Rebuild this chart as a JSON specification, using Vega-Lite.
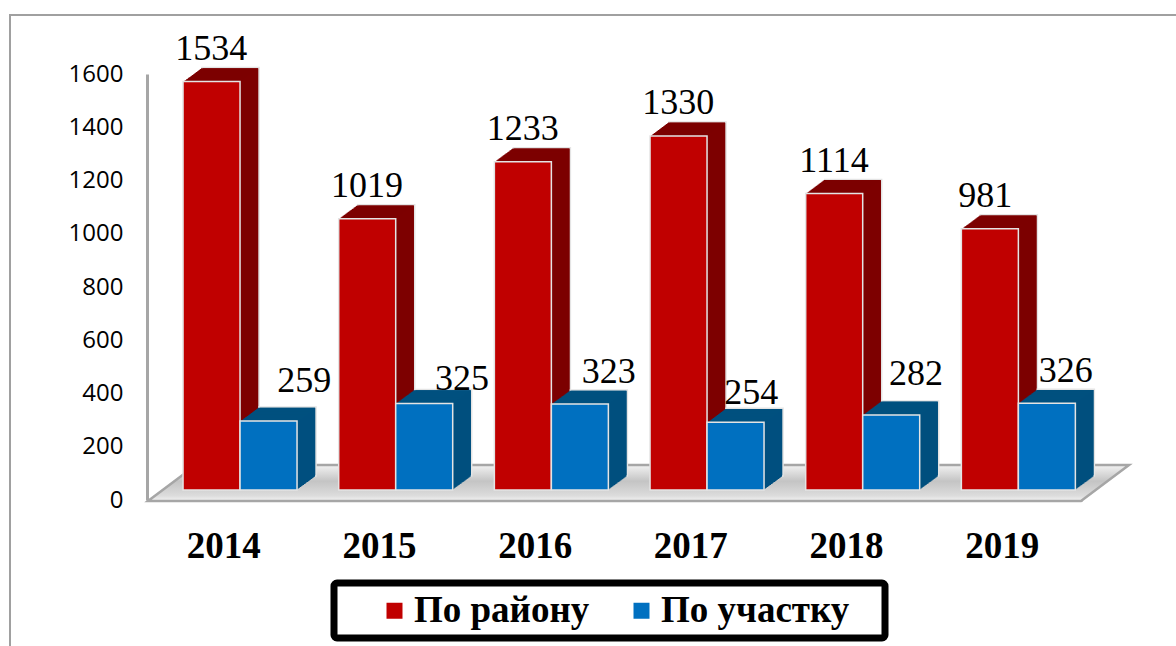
{"$schema":"https://vega.github.io/schema/vega-lite/v6.json","autosize":{"type":"none"},"padding":{"left":10,"top":15,"right":0,"bottom":0},"width":1170,"height":640,"background":"white","view":{"stroke":"#a0a0a0","strokeWidth":2,"fill":"white"},"config":{"font":"Liberation Serif","legend":{"strokeColor":"black","strokeWidth":7,"fillColor":"white","cornerRadius":3,"padding":9}},"data":{"values":[{"year":"2014","series":"По району","value":1534},{"year":"2014","series":"По участку","value":259},{"year":"2015","series":"По району","value":1019},{"year":"2015","series":"По участку","value":325},{"year":"2016","series":"По району","value":1233},{"year":"2016","series":"По участку","value":323},{"year":"2017","series":"По району","value":1330},{"year":"2017","series":"По участку","value":254},{"year":"2018","series":"По району","value":1114},{"year":"2018","series":"По участку","value":282},{"year":"2019","series":"По району","value":981},{"year":"2019","series":"По участку","value":326}]},"encoding":{"x":{"field":"year","type":"nominal","title":null,"scale":{"range":[138,1072],"paddingInner":0.268,"paddingOuter":0.134},"axis":{"orient":"bottom","offset":-155,"labelAngle":0,"ticks":false,"domainColor":"#a6a6a6","domainWidth":3,"labelFont":"Liberation Serif","labelFontWeight":"bold","labelFontSize":37,"labelColor":"black","labelPadding":28,"labelOffset":-2,"grid":false}},"y":{"field":"value","type":"quantitative","title":null,"stack":null,"scale":{"domain":[0,1600],"range":[485,59],"nice":false},"axis":{"orient":"left","offset":-137,"format":"d","values":[0,200,400,600,800,1000,1200,1400,1600],"ticks":false,"grid":false,"domainColor":"#a6a6a6","domainWidth":3,"labelFont":"Open Sans","labelFontSize":24,"labelColor":"black","labelPadding":24,"labelFlush":false}}},"layer":[{"transform":[{"filter":"datum.year==='2016' && datum.series==='По району'"}],"mark":{"type":"point","filled":true,"shape":"M-0.934,0.002 L-0.838,-0.07 L1.028,-0.07 L0.932,0.002 Z","size":1000000,"opacity":1,"stroke":"#a6a6a6","strokeWidth":2.5,"fill":{"gradient":"linear","x1":0,"y1":0,"x2":0,"y2":1,"stops":[{"offset":0,"color":"#f2f2f2"},{"offset":0.45,"color":"#c4c4c4"},{"offset":0.85,"color":"#dcdcdc"},{"offset":1,"color":"#f2f2f2"}]}},"encoding":{"x":{"field":"year","type":"nominal","bandPosition":1.183},"y":{"datum":0}}},{"transform":[{"filter":"datum.series==='По району'"}],"encoding":{"y2":{"datum":0}},"layer":[{"mark":{"type":"bar","width":57,"color":"#7d0000","xOffset":4.7,"yOffset":-24,"y2Offset":-24,"stroke":"#e4e4e4","strokeWidth":1.5}},{"mark":{"type":"bar","width":57,"color":"#7d0000","xOffset":3.7,"yOffset":-23.3,"y2Offset":-23.3}},{"mark":{"type":"bar","width":57,"color":"#7d0000","xOffset":2.7,"yOffset":-22.6,"y2Offset":-22.6}},{"mark":{"type":"bar","width":57,"color":"#7d0000","xOffset":1.7,"yOffset":-21.8,"y2Offset":-21.8}},{"mark":{"type":"bar","width":57,"color":"#7d0000","xOffset":0.7,"yOffset":-21.1,"y2Offset":-21.1}},{"mark":{"type":"bar","width":57,"color":"#7d0000","xOffset":-0.3,"yOffset":-20.3,"y2Offset":-20.3}},{"mark":{"type":"bar","width":57,"color":"#7d0000","xOffset":-1.3,"yOffset":-19.6,"y2Offset":-19.6}},{"mark":{"type":"bar","width":57,"color":"#7d0000","xOffset":-2.3,"yOffset":-18.8,"y2Offset":-18.8}},{"mark":{"type":"bar","width":57,"color":"#7d0000","xOffset":-3.3,"yOffset":-18.1,"y2Offset":-18.1}},{"mark":{"type":"bar","width":57,"color":"#7d0000","xOffset":-4.3,"yOffset":-17.4,"y2Offset":-17.4}},{"mark":{"type":"bar","width":57,"color":"#7d0000","xOffset":-5.3,"yOffset":-16.6,"y2Offset":-16.6}},{"mark":{"type":"bar","width":57,"color":"#7d0000","xOffset":-6.3,"yOffset":-15.9,"y2Offset":-15.9}},{"mark":{"type":"bar","width":57,"color":"#7d0000","xOffset":-7.3,"yOffset":-15.1,"y2Offset":-15.1}},{"mark":{"type":"bar","width":57,"color":"#7d0000","xOffset":-8.3,"yOffset":-14.4,"y2Offset":-14.4}},{"mark":{"type":"bar","width":57,"color":"#7d0000","xOffset":-9.3,"yOffset":-13.7,"y2Offset":-13.7}},{"mark":{"type":"bar","width":57,"color":"#7d0000","xOffset":-10.3,"yOffset":-12.9,"y2Offset":-12.9}},{"mark":{"type":"bar","width":57,"color":"#7d0000","xOffset":-11.3,"yOffset":-12.2,"y2Offset":-12.2}},{"mark":{"type":"bar","width":57,"color":"#7d0000","xOffset":-12.3,"yOffset":-11.4,"y2Offset":-11.4}},{"mark":{"type":"bar","width":57,"color":"#7d0000","xOffset":-13.3,"yOffset":-10.7,"y2Offset":-10.7}},{"mark":{"type":"bar","width":57,"xOffset":-14.3,"yOffset":-10,"y2Offset":-10,"stroke":"#e4e4e4","strokeWidth":1.5},"encoding":{"color":{"field":"series","type":"nominal","scale":{"domain":["По району","По участку"],"range":["#c00000","#0070c0"]},"legend":{"title":"\u00a0","titleOrient":"right","titlePadding":27,"titleFontSize":10,"orient":"none","legendX":324,"legendY":568,"direction":"horizontal","columns":2,"symbolType":"square","symbolSize":256,"symbolStrokeWidth":0,"symbolOpacity":1,"symbolOffset":33,"labelFont":"Liberation Serif","labelFontWeight":"bold","labelFontSize":37,"labelColor":"black","labelOffset":1,"columnPadding":-56,"labelLimit":500,"labelExpr":"datum.label + '\u00a0\u00a0\u00a0\u00a0\u00a0\u00a0\u00a0\u00a0\u00a0\u00a0\u00a0'"}}}}]},{"transform":[{"filter":"datum.series==='По участку'"}],"encoding":{"y2":{"datum":0}},"layer":[{"mark":{"type":"bar","width":57,"color":"#00507f","xOffset":61.7,"yOffset":-24,"y2Offset":-24,"stroke":"#e4e4e4","strokeWidth":1.5}},{"mark":{"type":"bar","width":57,"color":"#00507f","xOffset":60.7,"yOffset":-23.3,"y2Offset":-23.3}},{"mark":{"type":"bar","width":57,"color":"#00507f","xOffset":59.7,"yOffset":-22.6,"y2Offset":-22.6}},{"mark":{"type":"bar","width":57,"color":"#00507f","xOffset":58.7,"yOffset":-21.8,"y2Offset":-21.8}},{"mark":{"type":"bar","width":57,"color":"#00507f","xOffset":57.7,"yOffset":-21.1,"y2Offset":-21.1}},{"mark":{"type":"bar","width":57,"color":"#00507f","xOffset":56.7,"yOffset":-20.3,"y2Offset":-20.3}},{"mark":{"type":"bar","width":57,"color":"#00507f","xOffset":55.7,"yOffset":-19.6,"y2Offset":-19.6}},{"mark":{"type":"bar","width":57,"color":"#00507f","xOffset":54.7,"yOffset":-18.8,"y2Offset":-18.8}},{"mark":{"type":"bar","width":57,"color":"#00507f","xOffset":53.7,"yOffset":-18.1,"y2Offset":-18.1}},{"mark":{"type":"bar","width":57,"color":"#00507f","xOffset":52.7,"yOffset":-17.4,"y2Offset":-17.4}},{"mark":{"type":"bar","width":57,"color":"#00507f","xOffset":51.7,"yOffset":-16.6,"y2Offset":-16.6}},{"mark":{"type":"bar","width":57,"color":"#00507f","xOffset":50.7,"yOffset":-15.9,"y2Offset":-15.9}},{"mark":{"type":"bar","width":57,"color":"#00507f","xOffset":49.7,"yOffset":-15.1,"y2Offset":-15.1}},{"mark":{"type":"bar","width":57,"color":"#00507f","xOffset":48.7,"yOffset":-14.4,"y2Offset":-14.4}},{"mark":{"type":"bar","width":57,"color":"#00507f","xOffset":47.7,"yOffset":-13.7,"y2Offset":-13.7}},{"mark":{"type":"bar","width":57,"color":"#00507f","xOffset":46.7,"yOffset":-12.9,"y2Offset":-12.9}},{"mark":{"type":"bar","width":57,"color":"#00507f","xOffset":45.7,"yOffset":-12.2,"y2Offset":-12.2}},{"mark":{"type":"bar","width":57,"color":"#00507f","xOffset":44.7,"yOffset":-11.4,"y2Offset":-11.4}},{"mark":{"type":"bar","width":57,"color":"#00507f","xOffset":43.7,"yOffset":-10.7,"y2Offset":-10.7}},{"mark":{"type":"bar","width":57,"xOffset":42.7,"yOffset":-10,"y2Offset":-10,"stroke":"#e4e4e4","strokeWidth":1.5},"encoding":{"color":{"field":"series","type":"nominal"}}}]},{"encoding":{"xOffset":{"field":"series","type":"nominal"},"text":{"field":"value","type":"quantitative"}},"layer":[{"transform":[{"filter":"datum.series==='По району' && datum.year!=='2019'"}],"mark":{"type":"text","font":"Liberation Serif","fontSize":36,"color":"black","baseline":"alphabetic","align":"center","dx":14,"dy":-31.5}},{"transform":[{"filter":"datum.series==='По району' && datum.year==='2019'"}],"mark":{"type":"text","font":"Liberation Serif","fontSize":36,"color":"black","baseline":"alphabetic","align":"center","dx":9.5,"dy":-32}},{"transform":[{"filter":"datum.series==='По участку' && datum.year==='2014'"}],"mark":{"type":"text","font":"Liberation Serif","fontSize":36,"color":"black","baseline":"alphabetic","align":"center","dx":50,"dy":-39}},{"transform":[{"filter":"datum.series==='По участку' && datum.year==='2015'"}],"mark":{"type":"text","font":"Liberation Serif","fontSize":36,"color":"black","baseline":"alphabetic","align":"center","dx":52,"dy":-23}},{"transform":[{"filter":"datum.series==='По участку' && datum.year==='2016'"}],"mark":{"type":"text","font":"Liberation Serif","fontSize":36,"color":"black","baseline":"alphabetic","align":"center","dx":43,"dy":-31}},{"transform":[{"filter":"datum.series==='По участку' && datum.year==='2017'"}],"mark":{"type":"text","font":"Liberation Serif","fontSize":36,"color":"black","baseline":"alphabetic","align":"center","dx":30,"dy":-28}},{"transform":[{"filter":"datum.series==='По участку' && datum.year==='2018'"}],"mark":{"type":"text","font":"Liberation Serif","fontSize":36,"color":"black","baseline":"alphabetic","align":"center","dx":39,"dy":-40}},{"transform":[{"filter":"datum.series==='По участку' && datum.year==='2019'"}],"mark":{"type":"text","font":"Liberation Serif","fontSize":36,"color":"black","baseline":"alphabetic","align":"center","dx":33,"dy":-31}}]}]}
